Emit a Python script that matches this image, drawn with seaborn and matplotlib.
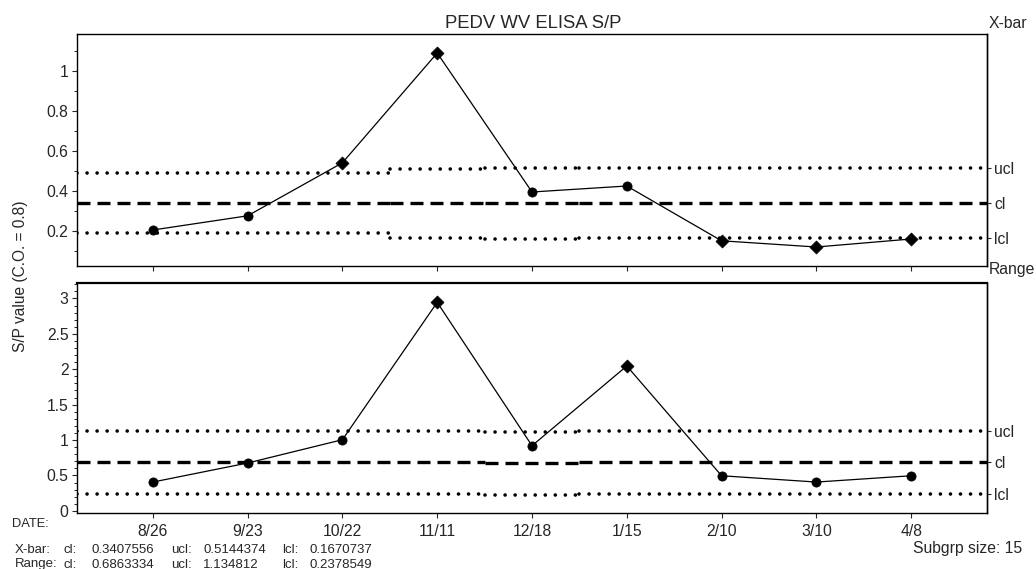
import numpy as np
import pandas as pd
import matplotlib
matplotlib.use("Agg")
import matplotlib.pyplot as plt
import seaborn as sns
from matplotlib.ticker import MultipleLocator, NullLocator

# ---------------- data ----------------
dates = ["8/26", "9/23", "10/22", "11/11", "12/18", "1/15", "2/10", "3/10", "4/8"]

xbar_values = [0.206, 0.277, 0.542, 1.091, 0.396, 0.426, 0.152, 0.121, 0.161]
xbar_flags = ["in", "in", "out", "out", "in", "in", "out", "out", "out"]

range_values = [0.407, 0.676, 1.005, 2.945, 0.920, 2.046, 0.496, 0.407, 0.496]
range_flags = ["in", "in", "in", "out", "in", "out", "in", "in", "in"]

# control-limit segments (in subgroup-index units)
xbar_seg_start = [-0.8, 2.5, 3.5, 4.5]
xbar_seg_end = [2.5, 3.5, 4.5, 8.8]
xbar_ucl = [0.489, 0.512, 0.514, 0.5144374]
xbar_cl = [0.3408, 0.3408, 0.3408, 0.3407556]
xbar_lcl = [0.190, 0.165, 0.160, 0.1670737]

range_seg_start = [-0.8, 3.5, 4.5]
range_seg_end = [3.5, 4.5, 8.8]
range_ucl = [1.134812, 1.115, 1.134812]
range_cl = [0.6863334, 0.675, 0.6863334]
range_lcl = [0.2378549, 0.222, 0.2378549]

limit_labels = ["ucl", "cl", "lcl"]
stat_rows = ["X-bar:", "Range:"]
stat_cl = ["0.3407556", "0.6863334"]
stat_ucl = ["0.5144374", "1.134812"]
stat_lcl = ["0.1670737", "0.2378549"]

# ---------------- style ----------------
sns.set_style("ticks")
plt.rcParams["font.family"] = ["Liberation Sans", "DejaVu Sans"]

W, H = 1036, 569
fig = plt.figure(figsize=(W / 100, H / 100), dpi=100)


def ft(x, y, s, **kw):
    fig.text(x / W, 1 - y / H, s, **kw)


def px_axes(l, t, r, b):
    return fig.add_axes([l / W, 1 - b / H, (r - l) / W, (b - t) / H])


ax1 = px_axes(77, 34, 987, 266)
ax2 = px_axes(77, 283, 987, 513)

TICK_FS = 11.3


def draw_panel(ax, values, flags, seg_s, seg_e, ucl, cl, lcl, ylim, major, minor):
    df = pd.DataFrame({"idx": np.arange(len(values)), "value": values, "flag": flags})
    sns.lineplot(data=df, x="idx", y="value", color="black", lw=0.9,
                 estimator=None, sort=False, ax=ax, zorder=3)
    sns.scatterplot(data=df[df.flag == "in"], x="idx", y="value", marker="o",
                    color="black", s=44, edgecolor="black", linewidth=0.5,
                    legend=False, ax=ax, zorder=4)
    sns.scatterplot(data=df[df.flag == "out"], x="idx", y="value", marker="D",
                    color="black", s=44, edgecolor="black", linewidth=0.5,
                    legend=False, ax=ax, zorder=4)
    for s0, s1, u, c, l in zip(seg_s, seg_e, ucl, cl, lcl):
        for yv in (u, l):
            ax.plot([s0, s1], [yv, yv], color="black", lw=2.6,
                    linestyle=(0, (0.01, 2.77)), dash_capstyle="round", zorder=2)
        ax.plot([s0, s1], [c, c], color="black", lw=2.4,
                linestyle=(0, (3.9, 2.1)), dash_capstyle="butt", zorder=2)
    ax.set_xlim(-0.8, 8.8)
    ax.set_ylim(*ylim)
    ax.set_xticks(range(len(dates)))
    ax.yaxis.set_major_locator(MultipleLocator(major))
    ax.yaxis.set_minor_locator(MultipleLocator(minor))
    ax.tick_params(axis="both", which="major", direction="out", length=3.6,
                   width=0.8, labelsize=TICK_FS, pad=2.5)
    ax.tick_params(axis="y", which="minor", direction="out", length=2.2, width=0.7)
    ax.set_xlabel("")
    ax.set_ylabel("")
    for sp in ax.spines.values():
        sp.set_visible(True)
        sp.set_linewidth(1.0)
        sp.set_color("black")
    sec = ax.secondary_yaxis("right")
    sec.set_yticks([ucl[-1], cl[-1], lcl[-1]], labels=limit_labels)
    sec.yaxis.set_minor_locator(NullLocator())
    sec.tick_params(direction="out", length=3.0, width=0.8, pad=2, labelsize=TICK_FS)
    sec.spines["right"].set_linewidth(1.0)


draw_panel(ax1, xbar_values, xbar_flags, xbar_seg_start, xbar_seg_end,
           xbar_ucl, xbar_cl, xbar_lcl, (0.026, 1.186), 0.2, 0.1)
draw_panel(ax2, range_values, range_flags, range_seg_start, range_seg_end,
           range_ucl, range_cl, range_lcl, (-0.03, 3.218), 0.5, 0.1)

ax1.set_xticklabels([])
ax1.set_yticks([0.2, 0.4, 0.6, 0.8, 1.0], labels=["0.2", "0.4", "0.6", "0.8", "1"])
ax2.set_xticklabels(dates)
ax2.set_yticks([0, 0.5, 1, 1.5, 2, 2.5, 3], labels=["0", "0.5", "1", "1.5", "2", "2.5", "3"])
ax2.tick_params(axis="x", pad=4)
ax2.spines["top"].set_linewidth(1.6)

# ---------------- texts ----------------
ft(533, 28.3, "PEDV WV ELISA S/P", ha="center", va="baseline", fontsize=13.3)
ft(989, 28.3, "X-bar", ha="left", va="baseline", fontsize=11.3)
ft(989, 274, "Range", ha="left", va="baseline", fontsize=11.3)
ft(21, 276.5, "S/P value (C.O. = 0.8)", rotation=90, ha="center", va="center",
   fontsize=11.2)
ft(11.7, 524, "DATE:", ha="left", va="center", fontsize=9.3)
ft(913, 548, "Subgrp size: 15", ha="left", va="center", fontsize=11.3)

for i, row_y in enumerate([550, 564.5]):
    ft(15, row_y, stat_rows[i], ha="left", va="center", fontsize=9.5)
    ft(63.5, row_y, "cl:", ha="left", va="center", fontsize=9.5)
    ft(91.7, row_y, stat_cl[i], ha="left", va="center", fontsize=9.5)
    ft(170.7, row_y, "ucl:", ha="left", va="center", fontsize=9.5)
    ft(203.3, row_y, stat_ucl[i], ha="left", va="center", fontsize=9.5)
    ft(281.7, row_y, "lcl:", ha="left", va="center", fontsize=9.5)
    ft(310, row_y, stat_lcl[i], ha="left", va="center", fontsize=9.5)

fig.savefig("out.png", dpi=100)
